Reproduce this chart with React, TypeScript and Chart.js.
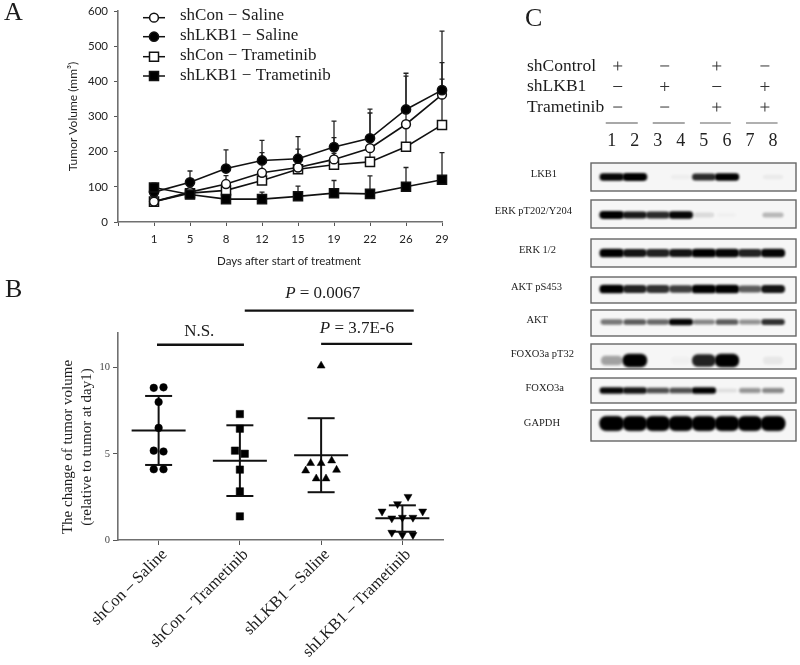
import React, { useEffect, useRef } from "react";
import { Chart, registerables } from "chart.js";

Chart.register(...registerables);

// ---------- Panel A data ----------
const days = ["1", "5", "8", "12", "15", "19", "22", "26", "29"];
const conSaline = [58, 85, 108, 140, 155, 178, 210, 278, 362];
const lkbSaline = [85, 113, 152, 175, 180, 213, 238, 320, 375];
const conTram = [58, 82, 90, 118, 150, 163, 171, 214, 276];
const lkbTram = [98, 78, 65, 65, 73, 82, 80, 100, 120];
const conSalineTop = [72, 100, 132, 197, 207, 240, 310, 415, 453];
const lkbSalineTop = [110, 145, 205, 232, 243, 287, 321, 423, 543];
const conTramTop = [70, 95, 110, 140, 170, 195, 215, 270, 406];
const lkbTramTop = [110, 88, 72, 85, 102, 118, 131, 155, 197];

// ---------- Panel B data ----------
const groupNames = ["shCon – Saline", "shCon – Trametinib", "shLKB1 – Saline", "shLKB1 – Trametinib"];
const g1x = [0.94, 1.06, 1, 1, 0.94, 1.06, 0.94, 1.06];
const g1y = [8.82, 8.85, 8.0, 6.5, 5.18, 5.13, 4.1, 4.1];
const g2x = [2, 2, 1.94, 2.06, 2, 2, 2];
const g2y = [7.3, 6.45, 5.18, 5.0, 4.08, 2.82, 1.37];
const g3x = [3, 2.87, 3, 3.13, 2.81, 3.19, 2.94, 3.06];
const g3y = [10.1, 4.45, 4.45, 4.6, 4.02, 4.06, 3.56, 3.56];
const g4x = [4.07, 3.94, 3.75, 4.25, 3.87, 4, 4.13, 3.87, 4, 4.13];
const g4y = [2.51, 2.09, 1.66, 1.66, 1.26, 1.3, 1.3, 0.43, 0.3, 0.3];
const groupMeans = [6.35, 4.6, 4.91, 1.26];
const groupHigh = [8.35, 6.65, 7.06, 2.01];
const groupLow = [4.35, 2.55, 2.77, 0.48];

// ---------- Panel C data ----------
const laneNumbers = ["1", "2", "3", "4", "5", "6", "7", "8"];
const conditionRows = ["shControl", "shLKB1", "Trametinib"];
const shControlSigns = ["+", "-", "+", "-"];
const shLkb1Signs = ["-", "+", "-", "+"];
const trametinibSigns = ["-", "-", "+", "+"];
const conditionGroupX = [1.26, 3.3, 5.56, 7.65];
const laneGroupSpans = [[0.74, 2.13], [2.78, 4.17], [4.83, 6.17], [6.83, 8.2]];
const blotNames = ["LKB1", "ERK pT202/Y204", "ERK 1/2", "AKT pS453", "AKT", "FOXO3a pT32", "FOXO3a", "GAPDH"];
const lkb1Bands = [0.85, 0.95, 0, 0.03, 0.72, 0.9, 0, 0.04];
const erkPBands = [0.95, 0.78, 0.72, 0.85, 0.1, 0.02, 0, 0.22];
const erkBands = [0.9, 0.8, 0.75, 0.8, 0.9, 0.85, 0.75, 0.85];
const aktPBands = [0.9, 0.75, 0.7, 0.65, 0.9, 0.9, 0.55, 0.8];
const aktBands = [0.45, 0.55, 0.5, 0.85, 0.4, 0.55, 0.35, 0.7];
const foxoPBands = [0.3, 0.95, 0, 0.02, 0.75, 0.9, 0, 0.05];
const foxoBands = [0.85, 0.8, 0.6, 0.6, 0.9, 0.08, 0.35, 0.4];
const gapdhBands = [1, 1, 1, 1, 1, 1, 1, 1];
const blotValues = [lkb1Bands, erkPBands, erkBands, aktPBands, aktBands, foxoPBands, foxoBands, gapdhBands];

// ---------- Layout and styles ----------
const SERIF = '"Liberation Serif"';
const SANS = "Lato";
const INK = "#1c1c1c";
const AXIS = "#707070";
const blotFrames = [
  { top: 163, h: 28, labelRight: 557, thick: 8, shift: 0 },
  { top: 200, h: 28, labelRight: 572, thick: 8, shift: 1 },
  { top: 239, h: 28, labelRight: 556, thick: 9, shift: 0 },
  { top: 277, h: 26, labelRight: 562, thick: 9, shift: -1 },
  { top: 310, h: 26, labelRight: 548, thick: 7, shift: -1 },
  { top: 344, h: 25, labelRight: 574, thick: 14, shift: 4 },
  { top: 378, h: 25, labelRight: 564, thick: 7, shift: 0 },
  { top: 410, h: 31, labelRight: 560, thick: 15, shift: -2 },
];

function bandSprite(intensity: number, thick: number, shift: number) {
  const c = document.createElement("canvas");
  c.width = 40;
  c.height = 40;
  const g = c.getContext("2d")!;
  if (intensity > 0) {
    g.filter = "blur(1.3px)";
    g.fillStyle = `rgba(0,0,0,${Math.min(1, intensity * 1.15)})`;
    const w = 25 * (0.8 + 0.2 * intensity);
    const t = thick * (0.55 + 0.45 * intensity);
    g.beginPath();
    g.roundRect(20 - w / 2, 20 + shift - t / 2, w, t, t / 2.2);
    g.fill();
  }
  return c;
}

function fixedText(items: any[]) {
  return {
    id: "fixedText",
    afterDraw(chart: any) {
      const g = chart.ctx;
      g.save();
      g.textBaseline = "middle";
      for (const t of items) {
        g.fillStyle = t.color || INK;
        g.font = t.font;
        g.textAlign = t.align || "left";
        g.save();
        g.translate(t.x, t.y);
        if (t.rot) g.rotate(t.rot);
        g.fillText(t.text, 0, 0);
        g.restore();
      }
      g.restore();
    },
  };
}

const noPlugins = { legend: { display: false }, tooltip: { enabled: false } };
const noEdgePadding = (s: any) => {
  s.paddingTop = 0;
  s.paddingBottom = 0;
  s.paddingLeft = 0;
  s.paddingRight = 0;
};

function makeA(canvas: HTMLCanvasElement) {
  const labels = ["", ...days];
  const series = [
    { label: "shCon − Saline", data: conSaline, top: conSalineTop, style: "circle", r: 4.4, fill: "#fff", order: 2 },
    { label: "shLKB1 − Saline", data: lkbSaline, top: lkbSalineTop, style: "circle", r: 4.6, fill: "#000", order: 1 },
    { label: "shCon − Trametinib", data: conTram, top: conTramTop, style: "rect", r: 6.4, fill: "#fff", order: 3 },
    { label: "shLKB1 − Trametinib", data: lkbTram, top: lkbTramTop, style: "rect", r: 6.4, fill: "#000", order: 0 },
  ];
  const legendY = [17.7, 36.7, 56.7, 76];
  const legendTextY = [15.5, 35.5, 56, 76];
  const errorBars = {
    id: "errorBars",
    beforeDatasetsDraw(chart: any) {
      const g = chart.ctx;
      const { x, y } = chart.scales;
      g.save();
      g.strokeStyle = "#222";
      g.lineWidth = 1.3;
      for (const s of series) {
        s.top.forEach((v: number, i: number) => {
          const px = x.getPixelForValue(i + 1);
          g.beginPath();
          g.moveTo(px, y.getPixelForValue(s.data[i]));
          g.lineTo(px, y.getPixelForValue(v));
          g.moveTo(px - 2.5, y.getPixelForValue(v));
          g.lineTo(px + 2.5, y.getPixelForValue(v));
          g.stroke();
        });
      }
      g.restore();
    },
  };
  const legendDraw = {
    id: "legendDraw",
    afterDraw(chart: any) {
      const g = chart.ctx;
      g.save();
      series.forEach((s, i) => {
        g.strokeStyle = "#111";
        g.lineWidth = 1.5;
        g.beginPath();
        g.moveTo(143, legendY[i]);
        g.lineTo(165, legendY[i]);
        g.stroke();
        g.fillStyle = s.fill;
        g.beginPath();
        if (s.style === "circle") g.arc(154, legendY[i], s.r, 0, Math.PI * 2);
        else g.rect(154 - 4.5, legendY[i] - 4.5, 9, 9);
        g.fill();
        g.stroke();
        g.fillStyle = INK;
        g.font = `17px ${SERIF}`;
        g.textBaseline = "middle";
        g.textAlign = "left";
        g.fillText(s.label, 180, legendTextY[i]);
      });
      g.restore();
    },
  };
  return new Chart(canvas, {
    type: "line",
    data: {
      labels,
      datasets: series.map((s) => ({
        label: s.label,
        data: [null, ...s.data],
        order: s.order,
        borderColor: "#111",
        borderWidth: 1.6,
        pointStyle: s.style,
        pointRadius: s.r,
        pointBackgroundColor: s.fill,
        pointBorderColor: "#111",
        pointBorderWidth: 1.5,
        tension: 0,
        clip: false,
      })),
    },
    options: {
      responsive: false,
      animation: false,
      layout: { autoPadding: false, padding: { top: 11, right: 58, left: 0, bottom: 0 } },
      plugins: noPlugins,
      scales: {
        x: {
          type: "category",
          offset: false,
          afterFit(s: any) { s.height = 48; noEdgePadding(s); },
          grid: { drawOnChartArea: false, tickLength: 4, color: "#555" },
          border: { color: AXIS, width: 1.6 },
          ticks: { autoSkip: false, maxRotation: 0, padding: 6, color: "#222", font: { family: SANS, size: 11.5 } },
        },
        y: {
          min: 0,
          max: 600,
          afterFit(s: any) { s.width = 118; noEdgePadding(s); },
          grid: { drawOnChartArea: false, tickLength: 4, color: "#555" },
          border: { color: AXIS, width: 1.6 },
          ticks: { stepSize: 100, padding: 6, color: "#222", font: { family: SANS, size: 11.5 } },
          title: { display: true, text: "Tumor Volume (mm³)", color: "#222", font: { family: SANS, size: 12 }, padding: { top: 66, bottom: 0 } },
        },
      },
    } as any,
    plugins: [
      errorBars,
      legendDraw,
      fixedText([
        { text: "A", x: 4, y: 13.5, font: `26px ${SERIF}` },
        { text: "Days after start of treatment", x: 289, y: 261, align: "center", color: "#222", font: `11.5px ${SANS}` },
      ]),
    ],
  });
}

function makeB(canvas: HTMLCanvasElement) {
  const sets = [
    { x: g1x, y: g1y, style: "circle", r: 3.8, rot: 0 },
    { x: g2x, y: g2y, style: "rect", r: 5.2, rot: 0 },
    { x: g3x, y: g3y, style: "triangle", r: 4.6, rot: 0 },
    { x: g4x, y: g4y, style: "triangle", r: 4.6, rot: 180 },
  ];
  const sigLines = [
    { from: 0.98, to: 2.05, at: 11.32 },
    { from: 2.06, to: 4.14, at: 13.3 },
    { from: 3.0, to: 4.12, at: 11.37 },
  ];
  const overlay = {
    id: "overlay",
    beforeDatasetsDraw(chart: any) {
      const g = chart.ctx;
      const { x, y } = chart.scales;
      g.save();
      g.strokeStyle = "#111";
      g.lineWidth = 2;
      const seg = (a: number, b: number, c: number, d: number) => {
        g.beginPath();
        g.moveTo(a, b);
        g.lineTo(c, d);
        g.stroke();
      };
      groupMeans.forEach((m, i) => {
        const cx = x.getPixelForValue(i + 1);
        const hi = y.getPixelForValue(groupHigh[i]);
        const lo = y.getPixelForValue(groupLow[i]);
        seg(cx, hi, cx, lo);
        seg(cx - 13.5, hi, cx + 13.5, hi);
        seg(cx - 13.5, lo, cx + 13.5, lo);
        const my = y.getPixelForValue(m);
        seg(cx - 27, my, cx + 27, my);
      });
      g.lineWidth = 2.4;
      for (const l of sigLines) {
        seg(x.getPixelForValue(l.from), y.getPixelForValue(l.at), x.getPixelForValue(l.to), y.getPixelForValue(l.at));
      }
      g.fillStyle = INK;
      g.textBaseline = "middle";
      g.textAlign = "left";
      const label = (cx: number, cyVal: number, parts: [string, string][]) => {
        let w = 0;
        for (const [t, f] of parts) { g.font = f; w += g.measureText(t).width; }
        let px = x.getPixelForValue(cx) - w / 2;
        const py = y.getPixelForValue(cyVal);
        for (const [t, f] of parts) { g.font = f; g.fillText(t, px, py); px += g.measureText(t).width; }
      };
      const it = `italic 17px ${SERIF}`;
      const rm = `17px ${SERIF}`;
      label(3.02, 14.28, [["P", it], [" = 0.0067", rm]]);
      label(1.5, 12.09, [["N.S.", rm]]);
      label(3.44, 12.25, [["P", it], [" = 3.7E-6", rm]]);
      g.restore();
    },
  };
  return new Chart(canvas, {
    type: "scatter",
    data: {
      datasets: sets.map((s) => ({
        data: s.x.map((v, i) => ({ x: v, y: s.y[i] })),
        pointStyle: s.style,
        pointRadius: s.r,
        rotation: s.rot,
        pointRotation: s.rot,
        backgroundColor: "#000",
        borderColor: "#000",
        borderWidth: 0.5,
        clip: false,
      })),
    },
    options: {
      responsive: false,
      animation: false,
      layout: { autoPadding: false, padding: { top: 63, right: 17, left: 0, bottom: 0 } },
      plugins: noPlugins,
      scales: {
        x: {
          type: "linear",
          min: 0.5,
          max: 4.5,
          afterFit(s: any) { s.height = 125; noEdgePadding(s); },
          afterBuildTicks(s: any) { s.ticks = groupNames.map((_, i) => ({ value: i + 1 })); },
          grid: { drawOnChartArea: false, tickLength: 5, color: "#555" },
          border: { color: AXIS, width: 1.6 },
          ticks: {
            autoSkip: false,
            minRotation: 45,
            maxRotation: 45,
            padding: 0,
            labelOffset: 6,
            color: INK,
            font: { family: SERIF, size: 16.5 },
            callback: (v: number) => groupNames[v - 1],
          },
        },
        y: {
          min: 0,
          max: 12,
          afterFit(s: any) { s.width = 118; noEdgePadding(s); },
          afterBuildTicks(s: any) { s.ticks = s.ticks.filter((t: any) => t.value % 5 === 0); },
          grid: { drawOnChartArea: false, tickLength: 5, color: "#555" },
          border: { color: AXIS, width: 1.6 },
          ticks: { stepSize: 5, padding: 3, color: "#444", font: { family: SERIF, size: 10.5 } },
        },
      },
    } as any,
    plugins: [
      overlay,
      fixedText([
        { text: "B", x: 5, y: 20, font: `26px ${SERIF}` },
        { text: "The change of tumor volume", x: 68, y: 177, rot: -Math.PI / 2, align: "center", font: `15px ${SERIF}` },
        { text: "(relative to tumor at day1)", x: 87, y: 177, rot: -Math.PI / 2, align: "center", font: `15px ${SERIF}` },
      ]),
    ],
  });
}

function makeHeader(canvas: HTMLCanvasElement) {
  const rows = [shControlSigns, shLkb1Signs, trametinibSigns];
  const pick = (sign: string) =>
    rows.flatMap((r, ri) =>
      r.map((s, i) => (s === sign ? { x: conditionGroupX[i], y: conditionRows[ri] } : null)).filter(Boolean)
    );
  const spans = {
    id: "laneSpans",
    afterDraw(chart: any) {
      const g = chart.ctx;
      const { x } = chart.scales;
      g.save();
      g.strokeStyle = "#a8a8a8";
      g.lineWidth = 1.8;
      for (const [a, b] of laneGroupSpans) {
        g.beginPath();
        g.moveTo(x.getPixelForValue(a), 123);
        g.lineTo(x.getPixelForValue(b), 123);
        g.stroke();
      }
      g.restore();
    },
  };
  return new Chart(canvas, {
    type: "scatter",
    data: {
      datasets: [
        { data: pick("+"), pointStyle: "cross", pointRadius: 4.5, borderColor: "#333", borderWidth: 1, clip: false },
        { data: pick("-"), pointStyle: "line", pointRadius: 4.5, borderColor: "#333", borderWidth: 1, clip: false },
      ] as any,
    },
    options: {
      responsive: false,
      animation: false,
      layout: { autoPadding: false, padding: { top: 55.7, right: 4, left: 67, bottom: 0 } },
      plugins: noPlugins,
      scales: {
        x: {
          type: "linear",
          min: 0.1,
          max: 9,
          afterFit(s: any) { s.height = 42.7; noEdgePadding(s); },
          afterBuildTicks(s: any) { s.ticks = laneNumbers.map((n) => ({ value: Number(n) })); },
          grid: { display: false, drawTicks: false },
          border: { display: false },
          ticks: { autoSkip: false, maxRotation: 0, padding: 13, color: "#222", font: { family: SERIF, size: 18 }, callback: (v: number) => String(v) },
        },
        y: {
          type: "category",
          labels: conditionRows,
          offset: true,
          afterFit(s: any) { s.width = 64; noEdgePadding(s); },
          grid: { display: false, drawTicks: false },
          border: { display: false },
          ticks: { autoSkip: false, mirror: true, padding: -64, color: INK, font: { family: SERIF, size: 17.5 } },
        },
      },
    } as any,
    plugins: [spans, fixedText([{ text: "C", x: 65, y: 19, font: `26px ${SERIF}` }])],
  });
}

function makeRow(canvas: HTMLCanvasElement, i: number) {
  const f = blotFrames[i];
  const name = blotNames[i];
  const sprites = blotValues[i].map((v) => bandSprite(v, f.thick, f.shift));
  const frame = {
    id: "frame",
    beforeDatasetsDraw(chart: any) {
      const { left, top, width, height } = chart.chartArea;
      const g = chart.ctx;
      g.save();
      g.fillStyle = "#f6f6f6";
      g.fillRect(left, top, width, height);
      g.strokeStyle = "#666";
      g.lineWidth = 1.4;
      g.strokeRect(left, top, width, height);
      g.restore();
    },
  };
  return new Chart(canvas, {
    type: "scatter",
    data: {
      datasets: [
        {
          data: blotValues[i].map((_, k) => ({ x: k + 1, y: name })),
          pointStyle: (c: any) => sprites[c.dataIndex],
          pointRadius: 12,
        },
      ] as any,
    },
    options: {
      responsive: false,
      animation: false,
      layout: { autoPadding: false, padding: { top: 2, right: 4, left: 0, bottom: 2 } },
      plugins: noPlugins,
      scales: {
        x: { type: "linear", min: 0.1, max: 9, display: false },
        y: {
          type: "category",
          labels: [name],
          offset: true,
          afterFit(s: any) { s.width = 131; noEdgePadding(s); },
          grid: { display: false, drawTicks: false },
          border: { display: false },
          ticks: { autoSkip: false, padding: 591 - f.labelRight, labelOffset: -2.5, color: INK, font: { family: SERIF, size: 10.5 } },
        },
      },
    } as any,
    plugins: [frame],
  });
}

const canvasStyle = (left: number, top: number): React.CSSProperties => ({
  position: "absolute",
  left,
  top,
  display: "block",
  filter: "blur(0.7px)",
});

export default function App() {
  const aRef = useRef<HTMLCanvasElement>(null);
  const bRef = useRef<HTMLCanvasElement>(null);
  const headerRef = useRef<HTMLCanvasElement>(null);
  const rowRefs = useRef<(HTMLCanvasElement | null)[]>([]);

  useEffect(() => {
    const charts = [
      makeA(aRef.current!),
      makeB(bRef.current!),
      makeHeader(headerRef.current!),
      ...blotFrames.map((_, i) => makeRow(rowRefs.current[i]!, i)),
    ];
    return () => charts.forEach((c) => c.destroy());
  }, []);

  return (
    <div style={{ position: "absolute", left: 0, top: 0, width: 800, height: 665, background: "#fff", overflow: "hidden" }}>
      <canvas ref={aRef} width={500} height={270} style={canvasStyle(0, 0)} />
      <canvas ref={bRef} width={460} height={395} style={canvasStyle(0, 270)} />
      <canvas ref={headerRef} width={340} height={160} style={canvasStyle(460, 0)} />
      {blotFrames.map((f, i) => (
        <canvas
          key={blotNames[i]}
          ref={(el) => { rowRefs.current[i] = el; }}
          width={340}
          height={f.h + 4}
          style={canvasStyle(460, f.top - 2)}
        />
      ))}
    </div>
  );
}
